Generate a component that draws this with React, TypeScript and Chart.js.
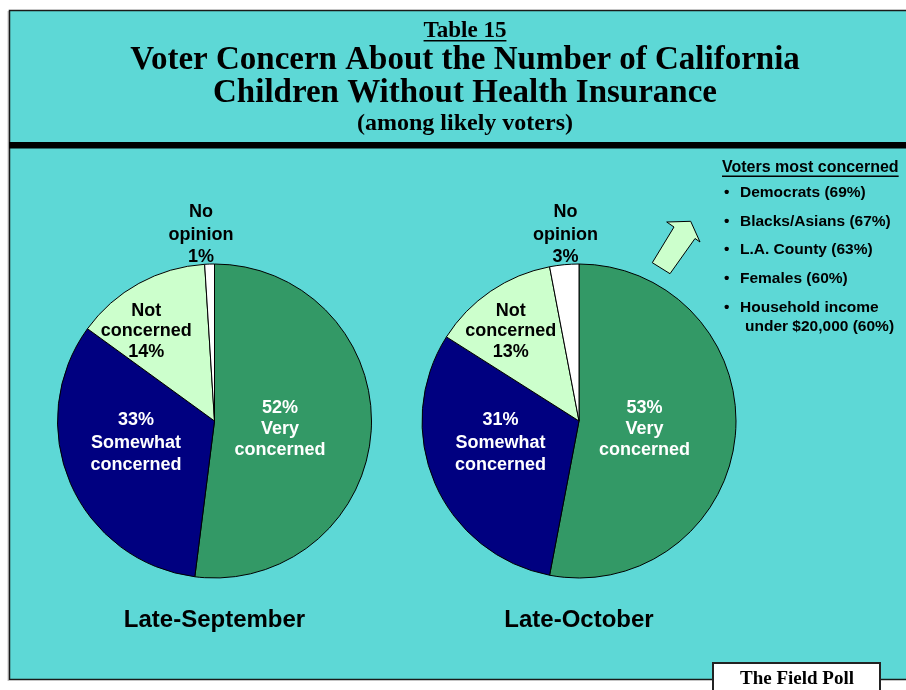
import React, { useEffect, useRef } from 'react';
import { Chart, registerables } from 'chart.js';

Chart.register(...registerables);

// ---------- data ----------
const categories = ['Very concerned', 'Somewhat concerned', 'Not concerned', 'No opinion'];
const septemberValues = [52, 33, 14, 1];
const octoberValues = [53, 31, 13, 3];
const periodLabels = ['Late-September', 'Late-October'];
const sliceLabelLines = [
  ['{p}', 'Very', 'concerned'],
  ['{p}', 'Somewhat', 'concerned'],
  ['Not', 'concerned', '{p}'],
  ['No', 'opinion', '{p}'],
];
const tableLabel = 'Table 15';
const titleLines = ['Voter Concern About the Number of California', 'Children Without Health Insurance'];
const subtitle = '(among likely voters)';
const groupsHeading = 'Voters most concerned';
const groupNames = ['Democrats', 'Blacks/Asians', 'L.A. County', 'Females', 'Household income|under $20,000'];
const groupValues = [69, 67, 63, 60, 60];
const sourceLabel = 'The Field Poll';

// ---------- styles ----------
const TEAL = '#5DD8D6';
const sliceColors = ['#339966', '#000080', '#CCFFCC', '#FFFFFF'];
const labelColors = ['#FFFFFF', '#FFFFFF', '#000000', '#000000'];
const labelOffsets = [
  [0.417, 0.051],
  [-0.5, 0.14],
  [-0.435, -0.573],
  [-0.086, -1.185],
];
const labelLineHeights = [21, 22.5, 20.5, 22.5];
const SANS = '"Liberation Sans", Arial, sans-serif';
const SERIF = '"Liberation Serif", "Times New Roman", serif';
const W = 906;
const H = 690;
const RADIUS = 157;

const decorPlugin = {
  id: 'decor',
  beforeDraw(chart: any) {
    const ctx = chart.ctx as CanvasRenderingContext2D;
    ctx.save();
    ctx.fillStyle = '#FFFFFF';
    ctx.fillRect(0, 0, W, H);
    // frame
    ctx.fillStyle = '#C8C8C8';
    ctx.fillRect(7.5, 11, 1.5, 670);
    ctx.fillStyle = TEAL;
    ctx.fillRect(9, 10, W - 9, 670);
    ctx.strokeStyle = '#1A1A1A';
    ctx.lineWidth = 1.5;
    ctx.beginPath();
    ctx.moveTo(W, 10.5);
    ctx.lineTo(9.5, 10.5);
    ctx.lineTo(9.5, 679.5);
    ctx.lineTo(W, 679.5);
    ctx.stroke();
    // black separator bar
    ctx.fillStyle = '#000000';
    ctx.fillRect(9, 142, W - 9, 6.5);

    // titles
    ctx.fillStyle = '#000000';
    ctx.textAlign = 'center';
    ctx.textBaseline = 'middle';
    const cx = 465;
    ctx.font = `bold 23px ${SERIF}`;
    ctx.fillText(tableLabel, cx, 31);
    const tw = ctx.measureText(tableLabel).width;
    ctx.fillRect(cx - tw / 2, 40, tw, 1.5);
    ctx.font = `bold 33px ${SERIF}`;
    ctx.fillText(titleLines[0], cx, 60);
    ctx.fillText(titleLines[1], cx, 93);
    ctx.font = `bold 24px ${SERIF}`;
    ctx.fillText(subtitle, cx, 124);

    // arrow
    ctx.beginPath();
    const pts = [
      [690.7, 221.3],
      [700, 242],
      [695, 238.5],
      [670, 273.7],
      [652.3, 262.7],
      [674, 227],
      [666.7, 222],
    ];
    pts.forEach(([x, y], i) => (i ? ctx.lineTo(x, y) : ctx.moveTo(x, y)));
    ctx.closePath();
    ctx.fillStyle = '#CCFFCC';
    ctx.fill();
    ctx.strokeStyle = '#000000';
    ctx.lineWidth = 1;
    ctx.stroke();

    // groups list
    ctx.fillStyle = '#000000';
    ctx.textAlign = 'left';
    ctx.font = `bold 16px ${SANS}`;
    ctx.fillText(groupsHeading, 722, 168);
    const hw = ctx.measureText(groupsHeading).width;
    ctx.fillRect(722, 175.5, hw, 1.5);
    ctx.font = `bold 15.5px ${SANS}`;
    const rowYs = [193, 222, 250, 279, 308];
    groupNames.forEach((name, i) => {
      const parts = name.split('|');
      ctx.fillText('\u2022', 724, rowYs[i]);
      if (parts.length === 1) {
        ctx.fillText(`${parts[0]} (${groupValues[i]}%)`, 740, rowYs[i]);
      } else {
        ctx.fillText(parts[0], 740, rowYs[i]);
        ctx.fillText(`${parts[1]} (${groupValues[i]}%)`, 745, rowYs[i] + 19);
      }
    });

    // source box
    ctx.fillStyle = '#FFFFFF';
    ctx.fillRect(712, 662, 168, 40);
    ctx.strokeStyle = '#222222';
    ctx.lineWidth = 2;
    ctx.strokeRect(713, 663, 167, 40);
    ctx.fillStyle = '#000000';
    ctx.textAlign = 'center';
    ctx.font = `bold 19px ${SERIF}`;
    ctx.fillText(sourceLabel, 797, 679);
    ctx.restore();
  },
};

function makeLabelPlugin(values: number[], caption: string) {
  return {
    id: 'sliceLabels',
    afterDatasetsDraw(chart: any) {
      const ctx = chart.ctx as CanvasRenderingContext2D;
      const meta = chart.getDatasetMeta(0);
      ctx.save();
      ctx.textAlign = 'center';
      ctx.textBaseline = 'middle';
      let pcx = 0;
      let pcy = 0;
      let pr = 0;
      meta.data.forEach((arc: any, i: number) => {
        const { x, y, outerRadius } = arc.getProps(['x', 'y', 'outerRadius'], true);
        pcx = x;
        pcy = y;
        pr = outerRadius;
        const [fx, fy] = labelOffsets[i];
        const lx = x + fx * outerRadius;
        const ly = y + fy * outerRadius;
        const lines = sliceLabelLines[i].map((s) => s.replace('{p}', `${values[i]}%`));
        ctx.fillStyle = labelColors[i];
        ctx.font = `bold 18px ${SANS}`;
        lines.forEach((ln, j) => ctx.fillText(ln, lx, ly + (j - 1) * labelLineHeights[i]));
      });
      ctx.fillStyle = '#000000';
      ctx.font = `bold 24px ${SANS}`;
      ctx.fillText(caption, pcx, pcy + pr * 1.267);
      ctx.restore();
    },
  };
}

function pieConfig(values: number[], caption: string, centerX: number, centerY: number, withDecor: boolean): any {
  const half = RADIUS + 3;
  return {
    type: 'pie',
    data: {
      labels: categories,
      datasets: [
        {
          data: values,
          backgroundColor: sliceColors,
          borderColor: '#000000',
          borderWidth: 1,
        },
      ],
    },
    options: {
      responsive: false,
      animation: false,
      devicePixelRatio: 1,
      radius: RADIUS,
      layout: {
        padding: {
          left: centerX - half,
          right: W - (centerX + half),
          top: centerY - half,
          bottom: H - (centerY + half),
        },
      },
      plugins: {
        legend: { display: false },
        tooltip: { enabled: false },
        title: { display: false },
      },
    },
    plugins: withDecor ? [decorPlugin, makeLabelPlugin(values, caption)] : [makeLabelPlugin(values, caption)],
  };
}

export default function App() {
  const leftRef = useRef<HTMLCanvasElement>(null);
  const rightRef = useRef<HTMLCanvasElement>(null);

  useEffect(() => {
    document.body.style.margin = '0';
    const c1 = new Chart(leftRef.current as HTMLCanvasElement, pieConfig(septemberValues, periodLabels[0], 214.5, 421, true));
    const c2 = new Chart(rightRef.current as HTMLCanvasElement, pieConfig(octoberValues, periodLabels[1], 579, 421, false));
    return () => {
      c1.destroy();
      c2.destroy();
    };
  }, []);

  const canvasStyle: React.CSSProperties = { position: 'absolute', left: 0, top: 0, width: W, height: H };
  return (
    <div style={{ position: 'fixed', left: 0, top: 0, width: W, height: H, background: '#FFFFFF' }}>
      <canvas ref={leftRef} width={W} height={H} style={canvasStyle} />
      <canvas ref={rightRef} width={W} height={H} style={canvasStyle} />
    </div>
  );
}
